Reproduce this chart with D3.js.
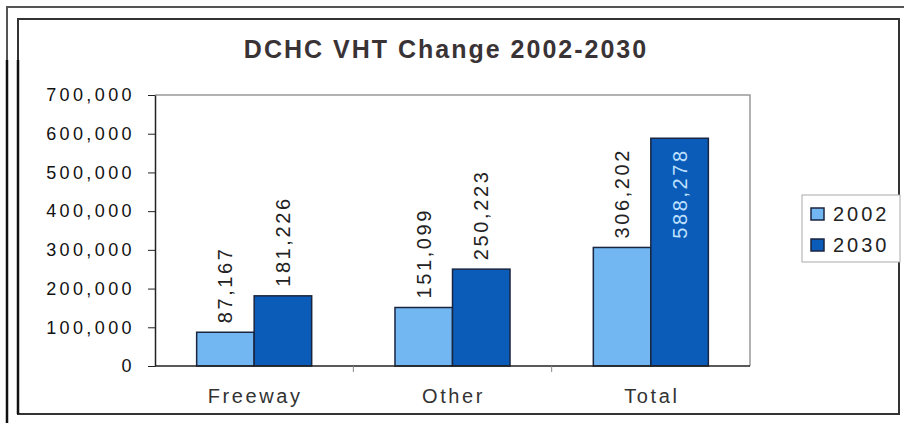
<!DOCTYPE html>
<html><head><meta charset="utf-8">
<script src="https://cdn.jsdelivr.net/npm/d3@7"></script>
<style>body{margin:0;background:#fff;} svg{display:block;font-family:Arial,"Liberation Sans",sans-serif;}</style>
</head><body>
<svg id="c" width="904" height="423"></svg>
<script>
const categories = ["Freeway", "Other", "Total"];
const seriesNames = ["2002", "2030"];
const values2002 = [87167, 151099, 306202];
const values2030 = [181226, 250223, 588278];
const yTicks = [0, 100000, 200000, 300000, 400000, 500000, 600000, 700000];
const colors = ["#72b6f2", "#0a5cb8"];

const svg = d3.select("#c");
// frames
svg.append("path").attr("d","M7,423V7H904").attr("fill","none").attr("stroke","#555").attr("stroke-width",2);
svg.append("line").attr("x1",7).attr("x2",7).attr("y1",60).attr("y2",423).attr("stroke","#111").attr("stroke-width",2.5);
svg.append("rect").attr("x",18).attr("y",19).attr("width",881).attr("height",395).attr("fill","none").attr("stroke","#333").attr("stroke-width",2);
svg.append("line").attr("x1",18).attr("x2",18).attr("y1",60).attr("y2",414).attr("stroke","#111").attr("stroke-width",2.5);

const m = {left:155, right:750, top:95, bottom:366};
const x0 = d3.scaleBand().domain(categories).range([m.left, m.right]).paddingInner(0.42).paddingOuter(0.21);
const x1 = d3.scaleBand().domain(seriesNames).range([0, x0.bandwidth()]);
const y = d3.scaleLinear().domain([0, 700000]).range([m.bottom, m.top]);

// plot frame
svg.append("path").attr("d",`M${m.left},${m.top}H${m.right}V${m.bottom}`).attr("fill","none").attr("stroke","#999").attr("stroke-width",1.5);

const data = categories.map((c,i)=>({cat:c, vals:[values2002[i], values2030[i]]}));
const g = svg.append("g");
data.forEach(d=>{
  d.vals.forEach((v,j)=>{
    const bx = x0(d.cat)+x1(seriesNames[j]);
    g.append("rect").attr("x",bx).attr("y",y(v)).attr("width",x1.bandwidth()).attr("height",y(0)-y(v))
      .attr("fill",colors[j]).attr("stroke","#1a2540").attr("stroke-width",1.5);
    const inside = v > 500000;
    const cx = bx + x1.bandwidth()/2;
    const ly = inside ? y(v)+10 : y(v)-9;
    g.append("text").attr("transform",`translate(${cx+7},${ly}) rotate(-90)`)
      .attr("text-anchor", inside ? "end" : "start")
      .attr("font-size",20).attr("letter-spacing",2.6)
      .attr("fill", inside ? "#bfe0ff" : "#222").text(d3.format(",")(v));
  });
});

// y axis
const yAxis = d3.axisLeft(y).tickValues(yTicks).tickFormat(d3.format(",")).tickSize(7).tickSizeOuter(0);
const ya = svg.append("g").attr("transform",`translate(${m.left},0)`).call(yAxis);
ya.select(".domain").attr("stroke","#222").attr("stroke-width",1.5);
ya.selectAll(".tick line").attr("stroke","#222");
ya.selectAll(".tick text").attr("font-size",18).attr("fill","#111").attr("x",-20).attr("letter-spacing",3.4);

// x axis
const xa = svg.append("g").attr("transform",`translate(0,${m.bottom})`);
xa.append("line").attr("x1",m.left).attr("x2",m.right).attr("stroke","#222").attr("stroke-width",1.5);
const step = x0.step();
[1,2].forEach(k=>{
  const tx = x0(categories[k]) - x0.paddingInner()*step/2;
  xa.append("line").attr("x1",tx).attr("x2",tx).attr("y1",0).attr("y2",6).attr("stroke","#888");
});
categories.forEach(c=>{
  xa.append("text").attr("x",x0(c)+x0.bandwidth()/2+1).attr("y",37).attr("text-anchor","middle")
    .attr("font-size",20).attr("letter-spacing",2.6).attr("fill","#333").text(c);
});

// title
svg.append("text").attr("x",446).attr("y",58).attr("text-anchor","middle").attr("font-size",25)
  .attr("font-weight","bold").attr("letter-spacing",2).attr("fill","#3a3336").text("DCHC VHT Change 2002-2030");

// legend
const lg = svg.append("g").attr("transform","translate(802,195)");
lg.append("rect").attr("width",98).attr("height",67).attr("fill","#fff").attr("stroke","#aaa").attr("stroke-width",1);
seriesNames.forEach((s,i)=>{
  lg.append("rect").attr("x",9).attr("y",13+i*31).attr("width",13).attr("height",12).attr("fill",colors[i]).attr("stroke","#1a2540").attr("stroke-width",1.5);
  lg.append("text").attr("x",31).attr("y",26+i*31).attr("font-size",20).attr("letter-spacing",3).attr("fill","#222").text(s);
});
</script>
</body></html>
